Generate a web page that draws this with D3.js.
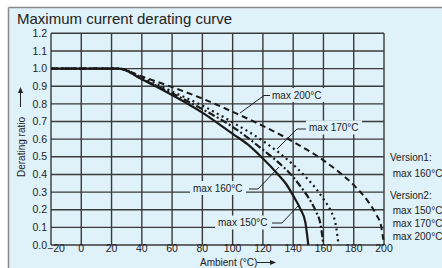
<!DOCTYPE html>
<html><head><meta charset="utf-8">
<script src="https://cdn.jsdelivr.net/npm/d3@7"></script>
<style>html,body{margin:0;padding:0;background:#fff;overflow:hidden}svg{display:block}text{font-family:"Liberation Sans",Arial,sans-serif;fill:#222}</style>
</head><body><svg id="c" width="442" height="268"></svg>
<script>
const title = "Maximum current derating curve";
const xTicks = [-20,0,20,40,60,80,100,120,140,160,180,200];
const yTicks = [0,0.1,0.2,0.3,0.4,0.5,0.6,0.7,0.8,0.9,1.0,1.1,1.2];
const xLabel = "Ambient (°C)";
const yLabel = "Derating ratio";
// curves: [temperature, ratio]
const curve150 = [[-20,1],[25,1],[40,0.94],[60,0.85],[80,0.75],[100,0.63],[110,0.57],[120,0.49],[130,0.40],[135,0.35],[140,0.28],[145,0.20],[148,0.13],[150,0]];
const curve160 = [[-20,1],[25,1],[40,0.94],[60,0.86],[80,0.77],[100,0.67],[120,0.54],[130,0.47],[140,0.385],[145,0.33],[150,0.27],[155,0.19],[158,0.12],[160,0]];
const curve170 = [[-20,1],[25,1],[40,0.95],[60,0.87],[80,0.79],[100,0.695],[120,0.59],[140,0.455],[150,0.37],[155,0.32],[160,0.26],[165,0.19],[168,0.12],[170,0]];
const curve200 = [[-20,1],[25,1],[40,0.955],[60,0.895],[80,0.83],[100,0.755],[120,0.675],[140,0.585],[160,0.48],[170,0.415],[180,0.34],[190,0.24],[195,0.17],[198,0.11],[200,0]];
const seriesNames = ["max 150°C","max 160°C","max 170°C","max 200°C"];
const legendLines = ["Version1:"," max 160°C","Version2:"," max 150°C"," max 170°C"," max 200°C"];

const svg = d3.select("#c");
// panel
svg.append("rect").attr("x",0).attr("y",0).attr("width",442).attr("height",268).attr("fill","#fff");
svg.append("rect").attr("x",9).attr("y",8).attr("width",433).attr("height",260).attr("fill","#dff1f9");
svg.append("line").attr("x1",8.5).attr("x2",442).attr("y1",7.5).attr("y2",7.5).attr("stroke","#8a8a8a").attr("stroke-width",1.5);
svg.append("line").attr("x1",8.5).attr("x2",8.5).attr("y1",7.5).attr("y2",268).attr("stroke","#8a8a8a").attr("stroke-width",1.5);

svg.append("text").attr("x",17).attr("y",24).attr("font-size","15px").text(title);

const x = d3.scaleLinear().domain([-20,200]).range([51,384]);
const y = d3.scaleLinear().domain([0,1.2]).range([245,33.3]);

const g = svg.append("g");
// grid
g.selectAll("line.vx").data(xTicks).join("line")
  .attr("x1",d=>x(d)).attr("x2",d=>x(d)).attr("y1",y(0)).attr("y2",y(1.2))
  .attr("stroke","#3a3a3a").attr("stroke-width",1.4);
g.selectAll("line.hy").data(yTicks).join("line")
  .attr("x1",x(-20)).attr("x2",x(200)).attr("y1",d=>y(d)).attr("y2",d=>y(d))
  .attr("stroke","#3a3a3a").attr("stroke-width",1.4);

// tick labels
svg.selectAll("text.yt").data(yTicks).join("text")
  .attr("x",47).attr("y",d=>y(d)+3.7).attr("text-anchor","end").attr("font-size","10.5px")
  .text(d=>d.toFixed(1));
svg.selectAll("text.xt").data(xTicks).join("text")
  .attr("x",d=>d===-20?x(d)+5:x(d)).attr("y",251.5).attr("text-anchor","middle").attr("font-size","10.5px")
  .text(d=>d<0?"\u2212"+Math.abs(d):d);

// axis titles
svg.append("text").attr("x",200).attr("y",266).attr("font-size","10px").text(xLabel);
svg.append("line").attr("x1",257).attr("x2",272).attr("y1",262.5).attr("y2",262.5).attr("stroke","#222").attr("stroke-width",1);
svg.append("path").attr("d","M276,262.5 L270,260 L270,265 Z").attr("fill","#222");

const yt = svg.append("g").attr("transform","translate(24.5,177) rotate(-90)");
yt.append("text").attr("x",0).attr("y",0).attr("font-size","10px").text(yLabel);
svg.append("line").attr("x1",20.5).attr("x2",20.5).attr("y1",107).attr("y2",92).attr("stroke","#222").attr("stroke-width",1);
svg.append("path").attr("d","M20.5,87 L18,93 L23,93 Z").attr("fill","#222");

// label boxes (cover grid), then curves, then leaders
const labels = [
  {t:seriesNames[3], x:272, y:95,  lead:[[240,113],[264,95.5],[270,95.5]]},
  {t:seriesNames[2], x:309, y:127.5, lead:[[277,149],[297,129],[306,129]]},
  {t:seriesNames[1], x:193, y:188, lead:[[279,167],[258,189],[249,189]]},
  {t:seriesNames[0], x:218, y:222.5, lead:[[298,206],[282,223],[272,223]]}
];
labels.forEach(l=>{
  svg.append("rect").attr("x",l.x-3).attr("y",l.y-7).attr("width",56).attr("height",14).attr("fill","#dff1f9");
});

const line = d3.line().x(d=>x(d[0])).y(d=>y(d[1])).curve(d3.curveMonotoneX);
const curves = [
  {d:curve150, dash:null, w:2.2},
  {d:curve160, dash:"7,2.5,2,2.5", w:2.2},
  {d:curve170, dash:"2,3.5", w:2.2},
  {d:curve200, dash:"6,4", w:2}
];
curves.forEach(c=>{
  const p = svg.append("path").attr("d",line(c.d)).attr("fill","none").attr("stroke","#1a1a1a").attr("stroke-width",c.w);
  if(c.dash) p.attr("stroke-dasharray",c.dash);
});

labels.forEach(l=>{
  svg.append("text").attr("x",l.x).attr("y",l.y+3.5).attr("font-size","10px").text(l.t);
  svg.append("path").attr("d",d3.line()(l.lead)).attr("fill","none").attr("stroke","#222").attr("stroke-width",1);
});

// right legend text
const ly = [157,173,195,210,223,236];
svg.selectAll("text.lg").data(legendLines).join("text")
  .attr("x",390).attr("y",(d,i)=>ly[i]+3.5).attr("font-size","10px")
  .attr("xml:space","preserve").style("white-space","pre").text(d=>d);
</script></body></html>
